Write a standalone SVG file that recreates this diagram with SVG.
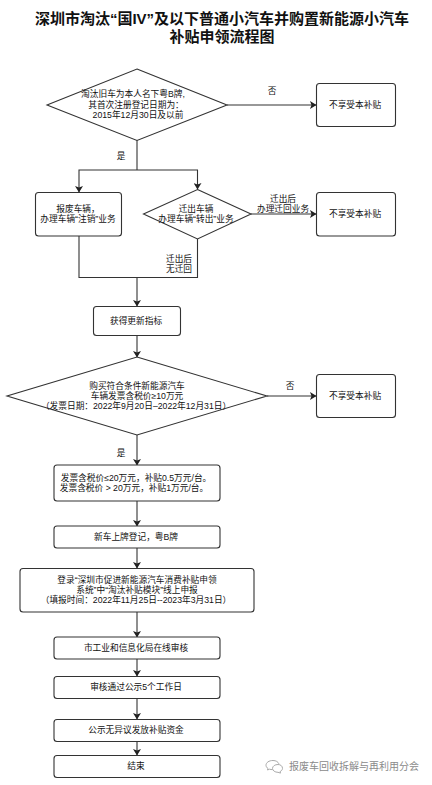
<svg xmlns="http://www.w3.org/2000/svg" width="432" height="785" viewBox="0 0 432 785">
<style>
text{font-family:"Liberation Sans","Noto Sans CJK SC",sans-serif;font-size:8.7px;fill:#111;text-anchor:middle}
.title{font-size:15px;font-weight:700;fill:#111}
.n{fill:#fff;stroke:#333;stroke-width:1.100}
.c{fill:none;stroke:#333;stroke-width:1.100}
.wm{font-size:10px;fill:#8a8a8a;text-anchor:start}
</style>
<defs>
<marker id="a" markerUnits="userSpaceOnUse" markerWidth="7" markerHeight="8" refX="6" refY="4" orient="auto"><path d="M0 0L6.500 4L0 8L1.500 4Z" fill="#222"/></marker>
</defs>
<rect width="432" height="785" fill="#fff"/>
<g id="title">
<text class="title" x="222" y="24">深圳市淘汰“国IV”及以下普通小汽车并购置新能源小汽车</text>
<text class="title" x="222" y="42">补贴申领流程图</text>
</g>
<g id="connectors">
<path class="c" d="M227 105H316" marker-end="url(#a)"/>
<path class="c" d="M137 140V170"/>
<path class="c" d="M137 170H79V192" marker-end="url(#a)"/>
<path class="c" d="M137 170H197.500V189" marker-end="url(#a)"/>
<path class="c" d="M251 214H316" marker-end="url(#a)"/>
<path class="c" d="M79 236V277.500H197.500V239"/>
<path class="c" d="M137 277.500V306" marker-end="url(#a)"/>
<path class="c" d="M137 335.500V357" marker-end="url(#a)"/>
<path class="c" d="M267 396H316" marker-end="url(#a)"/>
<path class="c" d="M137 435V465" marker-end="url(#a)"/>
<path class="c" d="M137 501V526" marker-end="url(#a)"/>
<path class="c" d="M137 548V568" marker-end="url(#a)"/>
<path class="c" d="M137 612V637" marker-end="url(#a)"/>
<path class="c" d="M137 659V676" marker-end="url(#a)"/>
<path class="c" d="M137 698.500V719" marker-end="url(#a)"/>
<path class="c" d="M137 741V755" marker-end="url(#a)"/>
</g>
<g id="d1"><path class="n" d="M137 69L227 105L137 140.500L47 105Z"/>
<text x="133" y="97">淘汰旧车为本人名下粤B牌,</text><text x="136" y="108">其首次注册登记日期为：</text><text x="138" y="118">2015年12月30日及以前</text></g>
<g id="r1"><rect class="n" x="316.500" y="83.500" width="79" height="43" rx="3"/><text x="355" y="108">不享受本补贴</text></g>
<g id="r2"><rect class="n" x="35.500" y="192.500" width="86" height="43.500" rx="3"/><text x="78" y="212">报废车辆，</text><text x="78" y="222">办理车辆“注销”业务</text></g>
<g id="d2"><path class="n" d="M197.500 189.500L251 214L197.500 239L143.500 214Z"/><text x="196" y="212">迁出车辆</text><text x="196" y="222">办理车辆“转出”业务</text></g>
<g id="r3"><rect class="n" x="316.500" y="192.500" width="79" height="43.500" rx="3"/><text x="355" y="217">不享受本补贴</text></g>
<g id="r4"><rect class="n" x="93.500" y="306.500" width="87" height="29" rx="3"/><text x="136" y="324">获得更新指标</text></g>
<g id="d3"><path class="n" d="M137 357L267 396L137 435L7 396Z"/><text x="137" y="389">购买符合条件新能源汽车</text><text x="137" y="399">车辆发票含税价≥10万元</text><text x="136" y="409">（发票日期：2022年9月20日–2022年12月31日）</text></g>
<g id="r5"><rect class="n" x="316.500" y="374.500" width="79" height="43" rx="3"/><text x="355" y="399">不享受本补贴</text></g>
<g id="r6"><rect class="n" x="54" y="465" width="166" height="36" rx="3"/><text x="136" y="481">发票含税价≤20万元，补贴0.5万元/台。</text><text x="134" y="491">发票含税价 &gt; 20万元，补贴1万元/台。</text></g>
<g id="r7"><rect class="n" x="54" y="526" width="166" height="22" rx="3"/><text x="136" y="540">新车上牌登记，粤B牌</text></g>
<g id="r8"><rect class="n" x="20" y="568.500" width="234" height="43.500" rx="3"/><text x="137" y="583">登录“深圳市促进新能源汽车消费补贴申领</text><text x="137" y="593">系统”中“淘汰补贴模块”线上申报</text><text x="136" y="603">（填报时间：2022年11月25日--2023年3月31日）</text></g>
<g id="r9"><rect class="n" x="54" y="637" width="166" height="22" rx="3"/><text x="136" y="651">市工业和信息化局在线审核</text></g>
<g id="r10"><rect class="n" x="54" y="676.500" width="166" height="22" rx="3"/><text x="136" y="690">审核通过公示5个工作日</text></g>
<g id="r11"><rect class="n" x="54" y="719.500" width="166" height="22" rx="3"/><text x="136" y="733">公示无异议发放补贴资金</text></g>
<g id="r12"><rect class="n" x="54" y="755.500" width="166" height="22" rx="3"/><text x="136" y="769">结束</text></g>
<g id="labels">
<text x="272" y="94">否</text><text x="121" y="159">是</text>
<text x="283" y="202">迁出后</text><text x="283" y="212">办理迁回业务</text>
<text x="179" y="262">迁出后</text><text x="179" y="272">无迁回</text>
<text x="290" y="389">否</text><text x="121" y="456">是</text>
</g>
<g id="watermark">
<g fill="none" stroke="#aaa" stroke-width="1"><path d="M273 760.500c-4 0-7 2-7 4.800c0 1.300 .8 2.400 2 3.200l-.5 1.500l2-.8c1 .3 2 .4 3 .4"/><path d="M273 760.500c3 0 5 1.300 6 3.400"/><path d="M278 764.500c-3 0-5.500 1.600-5.500 3.900s2.500 3.900 5.500 3.900l2.500 .8l-.4-1.500c1.300-.7 2.400-1.800 2.400-3.200c0-2.300-1.900-3.900-4.500-3.900Z"/></g>
<text class="wm" x="289" y="770">报废车回收拆解与再利用分会</text>
</g>
</svg>
